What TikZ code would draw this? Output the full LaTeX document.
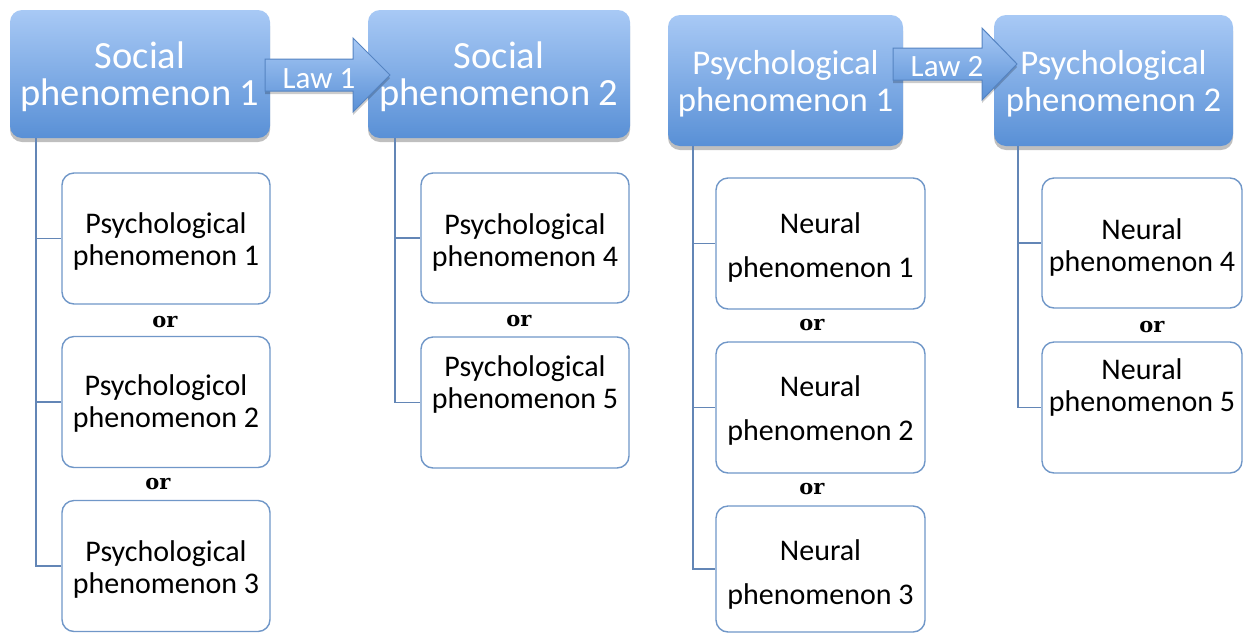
\documentclass[tikz,border=0pt]{standalone}
\usepackage{fontspec}
\setmainfont{Carlito}
\newfontfamily\orfont{DejaVu Serif}
\usetikzlibrary{shadows,calc}
\definecolor{topA}{HTML}{A8C9F5}
\definecolor{topB}{HTML}{5990D6}
\definecolor{boxedge}{HTML}{7097C8}
\definecolor{trunkcol}{HTML}{6386B6}
\definecolor{arrowedge}{HTML}{5584C2}
\newcommand\bxt[4]{\parbox[c][#1][t]{#2}{\centering\vspace*{\dimexpr#3-30pt\relax}\rule{0pt}{30pt}#4}}
\tikzset{
  topbox/.style={rectangle, rounded corners=12pt, inner sep=0pt, top color=topA, bottom color=topB,
    text=white, drop shadow={shadow xshift=0pt, shadow yshift=-4pt, opacity=0.25, fill=black}},
  bigsoc/.style={font=\fontsize{38.5}{37}\selectfont},
  bigpsy/.style={font=\fontsize{34.7}{37}\selectfont},
  cbox/.style={rectangle, rounded corners=12pt, inner sep=0pt, draw=boxedge, line width=1.4pt, fill=white,
    font=\fontsize{30}{32}\selectfont},
  wide/.style={font=\fontsize{30}{44}\selectfont},
  trunkline/.style={draw=trunkcol, line width=1.5pt},
  lawarrow/.style={draw=arrowedge, line width=1pt, top color=topA, bottom color=topB,
    drop shadow={shadow xshift=0pt, shadow yshift=-3pt, opacity=0.2, fill=black}},
  lawtxt/.style={text=white, inner sep=0pt, font=\fontsize{31}{32}\selectfont},
  ortxt/.style={inner sep=0pt, font=\orfont\bfseries\fontsize{21}{22}\selectfont}
}
\begin{document}
\begin{tikzpicture}[x=1pt, y=-1pt]
\useasboundingbox (0,0) rectangle (1244,633);
\fill[white] (0,0) rectangle (1244,633);

% top boxes
\node[topbox, bigsoc] (sp1) at (140,74) {\bxt{128pt}{260pt}{58pt}{Social\\phenomenon 1}};
\node[topbox, bigsoc] (sp2) at (499,74) {\bxt{128pt}{262pt}{58pt}{Social\\phenomenon 2}};
\node[topbox, bigpsy] (pp1) at (785.5,80.5) {\bxt{131pt}{235pt}{59pt}{Psychological\\phenomenon 1}};
\node[topbox, bigpsy] (pp2) at (1113.5,80.5) {\bxt{131pt}{239pt}{59pt}{Psychological\\phenomenon 2}};

% law arrows
\path[lawarrow] (265,59) -- (353,59) -- (353,38) -- (390,75) -- (353,112) -- (353,91) -- (265,91) -- cycle;
\node[lawtxt] (law1) at (319,79) {Law 1};
\path[lawarrow] (893,48) -- (982,48) -- (982,28) -- (1017,64) -- (982,100) -- (982,80) -- (893,80) -- cycle;
\node[lawtxt] (law2) at (947,67) {Law 2};

% column 1
\node[cbox] (a1) at (166,238.5) {\bxt{131pt}{208pt}{60pt}{Psychological\\phenomenon 1}};
\node[cbox] (a2) at (166,402) {\bxt{131pt}{208pt}{59pt}{Psychologicol\\phenomenon 2}};
\node[cbox] (a3) at (166,566) {\bxt{131pt}{208pt}{61pt}{Psychological\\phenomenon 3}};
\node[ortxt] (or1) at (165,322) {or};
\node[ortxt] (or2) at (158,484) {or};
\draw[trunkline] ($(sp1.south west)+(26,0)$) |- (a1.west);
\draw[trunkline] ($(sp1.south west)+(26,0)$) |- (a2.west);
\draw[trunkline] ($(sp1.south west)+(26,0)$) |- (a3.west);

% column 2
\node[cbox] (b4) at (525,238) {\bxt{130pt}{208pt}{61pt}{Psychological\\phenomenon 4}};
\node[cbox] (b5) at (525,402.5) {\bxt{131pt}{208pt}{39pt}{Psychological\\phenomenon 5}};
\node[ortxt] (or3) at (519,321) {or};
\draw[trunkline] ($(sp2.south west)+(27,0)$) |- (b4.west);
\draw[trunkline] ($(sp2.south west)+(27,0)$) |- (b5.west);

% column 3
\node[cbox, wide] (n1) at (820.5,243.5) {\bxt{131pt}{209pt}{55pt}{Neural\\phenomenon 1}};
\node[cbox, wide] (n2) at (820.5,407.5) {\bxt{131pt}{209pt}{54pt}{Neural\\phenomenon 2}};
\node[cbox, wide] (n3) at (820.5,569) {\bxt{126pt}{209pt}{54pt}{Neural\\phenomenon 3}};
\node[ortxt] (or4) at (812,325) {or};
\node[ortxt] (or5) at (812,489) {or};
\draw[trunkline] ($(pp1.south west)+(25,0)$) |- (n1.west);
\draw[trunkline] ($(pp1.south west)+(25,0)$) |- (n2.west);
\draw[trunkline] ($(pp1.south west)+(25,0)$) |- (n3.west);

% column 4
\node[cbox] (n4) at (1142,243) {\bxt{130pt}{200pt}{61pt}{Neural\\phenomenon 4}};
\node[cbox] (n5) at (1142,407.5) {\bxt{131pt}{200pt}{37pt}{Neural\\phenomenon 5}};
\node[ortxt] (or6) at (1152,327) {or};
\draw[trunkline] ($(pp2.south west)+(24,0)$) |- (n4.west);
\draw[trunkline] ($(pp2.south west)+(24,0)$) |- (n5.west);
\end{tikzpicture}
\end{document}
